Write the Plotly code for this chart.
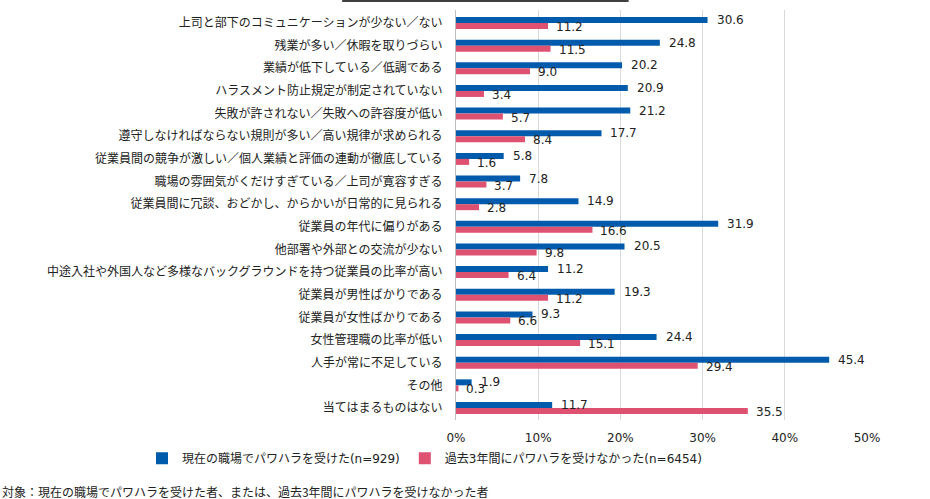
import plotly.graph_objects as go

categories = [
    "上司と部下のコミュニケーションが少ない／ない",
    "残業が多い／休暇を取りづらい",
    "業績が低下している／低調である",
    "ハラスメント防止規定が制定されていない",
    "失敗が許されない／失敗への許容度が低い",
    "遵守しなければならない規則が多い／高い規律が求められる",
    "従業員間の競争が激しい／個人業績と評価の連動が徹底している",
    "職場の雰囲気がくだけすぎている／上司が寛容すぎる",
    "従業員間に冗談、おどかし、からかいが日常的に見られる",
    "従業員の年代に偏りがある",
    "他部署や外部との交流が少ない",
    "中途入社や外国人など多様なバックグラウンドを持つ従業員の比率が高い",
    "従業員が男性ばかりである",
    "従業員が女性ばかりである",
    "女性管理職の比率が低い",
    "人手が常に不足している",
    "その他",
    "当てはまるものはない",
]
series1_name = "現在の職場でパワハラを受けた(n=929)"
series1 = [30.6, 24.8, 20.2, 20.9, 21.2, 17.7, 5.8, 7.8, 14.9, 31.9, 20.5, 11.2, 19.3, 9.3, 24.4, 45.4, 1.9, 11.7]
series2_name = "過去3年間にパワハラを受けなかった(n=6454)"
series2 = [11.2, 11.5, 9.0, 3.4, 5.7, 8.4, 1.6, 3.7, 2.8, 16.6, 9.8, 6.4, 11.2, 6.6, 15.1, 29.4, 0.3, 35.5]
x_ticks = [0, 10, 20, 30, 40, 50]
x_tick_labels = ["0%", "10%", "20%", "30%", "40%", "50%"]
footnote = "対象：現在の職場でパワハラを受けた者、または、過去3年間にパワハラを受けなかった者"

BLUE = "#005BAC"
PINK = "#DF5170"
FONT = "DejaVu Sans, Noto Sans CJK JP, sans-serif"
JFONT = "Noto Sans CJK JP, sans-serif"
TXT = "#222222"

fig = go.Figure()
fig.add_trace(go.Bar(y=categories, x=series1, orientation="h", name=series1_name,
                     marker=dict(color=BLUE, line=dict(width=0)), offsetgroup="a"))
fig.add_trace(go.Bar(y=categories, x=series2, orientation="h", name=series2_name,
                     marker=dict(color=PINK, line=dict(width=0)), offsetgroup="b"))

annotations = []
for c, v in zip(categories, series1):
    annotations.append(dict(x=v, y=c, xref="x", yref="y", text=f"{v:.1f}", showarrow=False,
                            xanchor="left", yanchor="middle", xshift=7, yshift=3,
                            font=dict(family=FONT, size=12, color=TXT)))
for c, v in zip(categories, series2):
    annotations.append(dict(x=v, y=c, xref="x", yref="y", text=f"{v:.1f}", showarrow=False,
                            xanchor="left", yanchor="middle", xshift=6, yshift=-4,
                            font=dict(family=FONT, size=12, color=TXT)))
annotations.append(dict(x=0, y=0, xref="paper", yref="paper", text=footnote, showarrow=False,
                        xanchor="left", yanchor="middle", xshift=-456, yshift=-71,
                        font=dict(family=JFONT, size=12, color=TXT)))
fig.update_layout(
    width=930, height=499,
    margin=dict(l=456, r=63, t=10, b=79),
    paper_bgcolor="white", plot_bgcolor="white",
    barmode="group", bargap=0.47, bargroupgap=0,
    font=dict(family=FONT, size=12, color=TXT),
    hovermode=False,
    showlegend=True,
    legend=dict(orientation="h", x=-0.764, xanchor="left", y=-0.058, yanchor="top",
                font=dict(family=FONT, size=12, color=TXT),
                tracegroupgap=0, traceorder="normal"),
    xaxis=dict(range=[0, 50], tickvals=x_ticks, ticktext=x_tick_labels,
               showgrid=True, gridcolor="#D9D9D9", gridwidth=1,
               zeroline=False, showline=False, ticks="", ticklabelstandoff=9,
               tickfont=dict(family=FONT, size=12, color=TXT)),
    yaxis=dict(autorange="reversed", showline=True, linecolor="#BFBFBF", linewidth=1,
               ticks="", showgrid=False,
               tickfont=dict(family=JFONT, size=12, color=TXT), ticklabelstandoff=10),
    annotations=annotations,
    shapes=[dict(type="line", xref="paper", yref="paper", x0=-0.277, x1=0.42, y0=1.022, y1=1.022,
                 line=dict(color="#404040", width=2))],
)
fig.write_html("out.html", config={"displayModeBar": False, "staticPlot": True},
               post_script="document.body.style.margin='0';")
